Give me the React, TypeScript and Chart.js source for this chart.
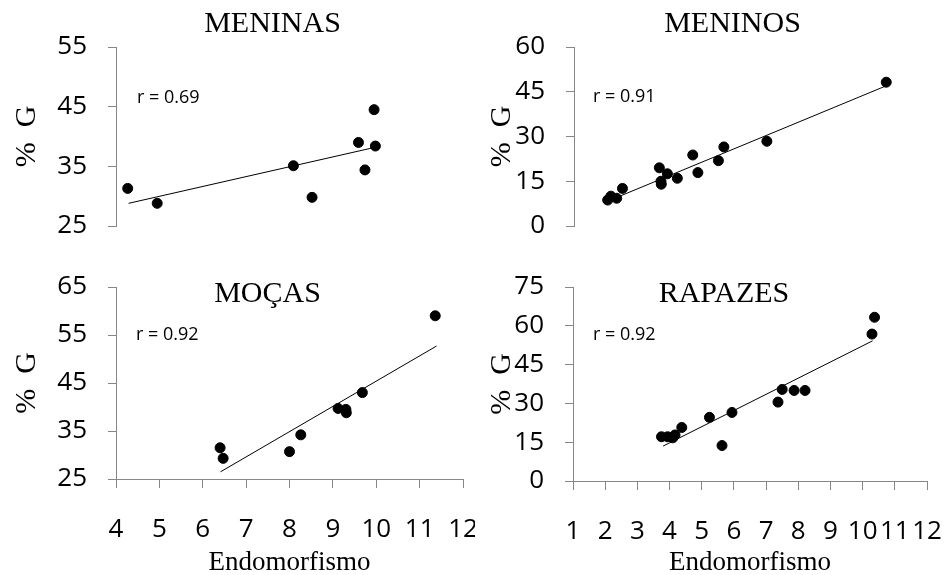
import React, { useEffect, useRef } from "react";
import { Chart, registerables } from "chart.js";

Chart.register(...registerables);

// ---- Data ----
// MENINAS
const meninasX = [4.27, 4.95, 8.09, 8.52, 9.59, 9.74, 9.95, 9.98];
const meninasY = [31.3, 28.8, 35.1, 29.8, 39.0, 34.4, 44.5, 38.4];
const meninasTrendX = [4.29, 9.98];
const meninasTrendY = [28.8, 38.2];
const meninasR = "r = 0.69";

// MENINOS
const meninosX = [2.05, 2.15, 2.33, 2.51, 3.66, 3.71, 3.72, 3.91, 4.22, 4.7, 4.86, 5.5, 5.67, 7.01, 10.73];
const meninosY = [8.7, 10.0, 9.3, 12.6, 19.5, 15.0, 14.0, 17.5, 16.0, 23.8, 17.9, 21.9, 26.5, 28.4, 48.2];
const meninosTrendX = [2.18, 10.73];
const meninosTrendY = [8.9, 47.0];
const meninosR = "r = 0.91";

// MOÇAS
const mocasX = [6.4, 6.47, 8.0, 8.26, 9.12, 9.3, 9.31, 9.68, 11.36];
const mocasY = [31.5, 29.3, 30.7, 34.2, 39.7, 39.5, 38.8, 43.0, 59.0];
const mocasTrendX = [6.41, 11.39];
const mocasTrendY = [26.5, 52.7];
const mocasR = "r = 0.92";

// RAPAZES
const rapazesX = [3.75, 3.94, 4.1, 4.17, 4.38, 5.24, 5.63, 5.94, 7.37, 7.5, 7.87, 8.21, 10.29, 10.37];
const rapazesY = [17.1, 17.1, 16.7, 17.8, 20.7, 24.6, 13.7, 26.5, 30.5, 35.4, 35.0, 35.0, 56.8, 63.3];
const rapazesTrendX = [3.8, 10.31];
const rapazesTrendY = [13.5, 54.2];
const rapazesR = "r = 0.92";

// Axis ranges / tick steps
const leftXRange = [4, 12];
const rightXRange = [1, 12];
const xStep = 1;
const meninasYRange = [25, 55];
const meninosYRange = [0, 60];
const mocasYRange = [25, 65];
const rapazesYRange = [0, 75];
const meninasYStep = 10;
const meninosYStep = 15;
const mocasYStep = 10;
const rapazesYStep = 15;

const yAxisTitle = "%  G";
const xAxisTitle = "Endomorfismo";

const SANS = '"Open Sans", "Liberation Sans", sans-serif';
const SERIF = '"Liberation Serif", "Times New Roman", serif';
const GRAY = "#878787";

const panelText = {
  id: "panelText",
  afterDraw(chart: any, _args: any, opts: any) {
    const { ctx, chartArea } = chart;
    ctx.save();
    ctx.fillStyle = "#000";
    ctx.font = `30px ${SERIF}`;
    ctx.textAlign = "center";
    ctx.textBaseline = "alphabetic";
    ctx.fillText(opts.title, (chartArea.left + chartArea.right) / 2 + opts.titleDx, opts.titleY);
    ctx.font = `18px ${SANS}`;
    ctx.textAlign = "left";
    ctx.textBaseline = "middle";
    ctx.fillText(opts.r, chartArea.left + opts.rDx, chartArea.top + opts.rDy);
    ctx.restore();
  },
};

type PanelProps = {
  left: number;
  top: number;
  w: number;
  h: number;
  area: { l: number; r: number; t: number; b: number };
  xs: number[];
  ys: number[];
  tx: number[];
  ty: number[];
  xRange: number[];
  yRange: number[];
  yStep: number;
  title: string;
  rText: string;
  titleDx: number;
  titleY: number;
  rDx: number;
  rDy: number;
  showX: boolean;
};

function Panel(p: PanelProps) {
  const ref = useRef<HTMLCanvasElement | null>(null);
  useEffect(() => {
    if (!ref.current) return;
    const pts = p.xs.map((x, i) => ({ x, y: p.ys[i] }));
    const trend = p.tx.map((x, i) => ({ x, y: p.ty[i] }));
    const chart = new Chart(ref.current, {
      type: "scatter",
      data: {
        datasets: [
          {
            data: pts,
            backgroundColor: "#000",
            borderColor: "#000",
            pointRadius: 5,
            pointHoverRadius: 5,
          },
          {
            data: trend,
            showLine: true,
            borderColor: "#000",
            borderWidth: 1,
            pointRadius: 0,
            pointHoverRadius: 0,
          },
        ],
      },
      options: {
        responsive: false,
        maintainAspectRatio: false,
        animation: false,
        devicePixelRatio: 1,
        events: [],
        layout: {
          autoPadding: false,
          padding: {
            left: 0,
            top: p.area.t,
            right: p.w - p.area.r,
            bottom: p.showX ? 0 : p.h - p.area.b,
          },
        },
        plugins: {
          legend: { display: false },
          tooltip: { enabled: false },
          title: { display: false },
          panelText: {
            title: p.title,
            r: p.rText,
            titleDx: p.titleDx,
            titleY: p.titleY,
            rDx: p.rDx,
            rDy: p.rDy,
          },
        } as any,
        scales: {
          x: {
            type: "linear",
            display: p.showX,
            min: p.xRange[0],
            max: p.xRange[1],
            ticks: {
              stepSize: xStep,
              autoSkip: false,
              maxRotation: 0,
              color: "#000",
              font: { family: SANS, size: 26 },
              padding: 26,
            },
            grid: {
              drawOnChartArea: false,
              drawTicks: true,
              tickLength: 9,
              color: GRAY,
            },
            border: { display: true, color: GRAY, width: 1 },
            title: {
              display: true,
              text: xAxisTitle,
              color: "#000",
              font: { family: SERIF, size: 27 },
              padding: { top: 0, bottom: -4 },
            },
            afterFit(s: any) {
              s.height = p.h - p.area.b;
              s.paddingLeft = 0;
              s.paddingRight = 0;
            },
          },
          y: {
            type: "linear",
            min: p.yRange[0],
            max: p.yRange[1],
            ticks: {
              stepSize: p.yStep,
              color: "#000",
              font: { family: SANS, size: 26 },
              padding: 21,
            },
            grid: {
              drawOnChartArea: false,
              drawTicks: true,
              tickLength: 8,
              color: GRAY,
            },
            border: { display: true, color: GRAY, width: 1 },
            title: {
              display: true,
              text: yAxisTitle,
              color: "#000",
              font: { family: SERIF, size: 30 },
              padding: { top: 9, bottom: 0 },
            },
            afterFit(s: any) {
              s.width = p.area.l;
              s.paddingTop = 0;
              s.paddingBottom = 0;
            },
          },
        } as any,
      },
      plugins: [panelText],
    } as any);
    return () => chart.destroy();
  }, []);
  return (
    <canvas
      ref={ref}
      width={p.w}
      height={p.h}
      style={{ position: "absolute", left: p.left, top: p.top, width: p.w, height: p.h }}
    />
  );
}

export default function App() {
  return (
    <div style={{ position: "fixed", left: 0, top: 0, width: 950, height: 575, background: "#fff" }}>
      <Panel
        left={0}
        top={0}
        w={475}
        h={270}
        area={{ l: 116, r: 463, t: 47, b: 248 }}
        xs={meninasX}
        ys={meninasY}
        tx={meninasTrendX}
        ty={meninasTrendY}
        xRange={leftXRange}
        yRange={meninasYRange}
        yStep={meninasYStep}
        title="MENINAS"
        rText={meninasR}
        titleDx={-17}
        titleY={32}
        rDx={21}
        rDy={51}
        showX={false}
      />
      <Panel
        left={475}
        top={0}
        w={475}
        h={270}
        area={{ l: 99, r: 452, t: 47, b: 248 }}
        xs={meninosX}
        ys={meninosY}
        tx={meninosTrendX}
        ty={meninosTrendY}
        xRange={rightXRange}
        yRange={meninosYRange}
        yStep={meninosYStep}
        title="MENINOS"
        rText={meninosR}
        titleDx={-18}
        titleY={32}
        rDx={19}
        rDy={50}
        showX={false}
      />
      <Panel
        left={0}
        top={270}
        w={475}
        h={305}
        area={{ l: 116, r: 463, t: 17, b: 209 }}
        xs={mocasX}
        ys={mocasY}
        tx={mocasTrendX}
        ty={mocasTrendY}
        xRange={leftXRange}
        yRange={mocasYRange}
        yStep={mocasYStep}
        title="MOÇAS"
        rText={mocasR}
        titleDx={-22}
        titleY={32}
        rDx={20}
        rDy={48}
        showX={true}
      />
      <Panel
        left={475}
        top={270}
        w={475}
        h={305}
        area={{ l: 98, r: 452, t: 17, b: 211 }}
        xs={rapazesX}
        ys={rapazesY}
        tx={rapazesTrendX}
        ty={rapazesTrendY}
        xRange={rightXRange}
        yRange={rapazesYRange}
        yStep={rapazesYStep}
        title="RAPAZES"
        rText={rapazesR}
        titleDx={-26}
        titleY={32}
        rDx={20}
        rDy={48}
        showX={true}
      />
    </div>
  );
}
